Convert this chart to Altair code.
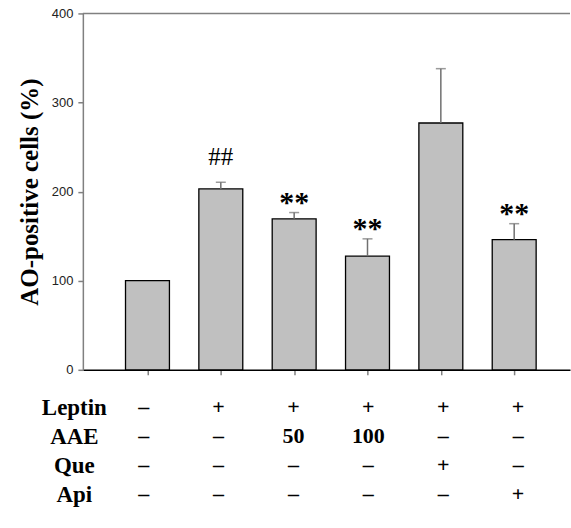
import altair as alt
import pandas as pd

groups = [1, 2, 3, 4, 5, 6]
means = [100, 203, 169.5, 127.5, 277, 146]
errors = [0, 7.5, 7, 19.5, 61, 18]
hash_marks = ["", "##", "", "", "", ""]
star_marks = ["", "", "**", "**", "", "**"]
y_ticks = [0, 100, 200, 300, 400]

row_names = ["Leptin", "AAE", "Que", "Api"]
leptin = ["–", "+", "+", "+", "+", "+"]
aae = ["–", "–", "50", "100", "–", "–"]
que = ["–", "–", "–", "–", "+", "–"]
api = ["–", "–", "–", "–", "–", "+"]

df = pd.DataFrame({"g": groups, "mean": means, "err": errors,
                   "hash": hash_marks, "star": star_marks})
df["top"] = df["mean"] + df["err"]

rows = []
for name, vals in zip(row_names, [leptin, aae, que, api]):
    for g, v in zip(groups, vals):
        rows.append({"row": name, "g": g, "val": v})
tdf = pd.DataFrame(rows)

xscale = alt.Scale(domain=[0.187, 6.693], nice=False, zero=False)
yscale = alt.Scale(domain=[0, 400], nice=False)
GRAY = "#808080"

base = alt.Chart(df)
bars = base.mark_bar(size=44, color="#c0c0c0", stroke="black", strokeWidth=1.3).encode(
    x=alt.X("g:Q", scale=xscale,
            axis=alt.Axis(values=groups, labels=False, title=None, grid=False,
                          tickColor=GRAY, tickSize=5, tickWidth=1.5,
                          domainColor="black", domainWidth=1.5)),
    y=alt.Y("mean:Q", scale=yscale,
            axis=alt.Axis(values=y_ticks, title="AO-positive cells (%)", grid=False,
                          domainColor=GRAY, domainWidth=1.5,
                          tickColor=GRAY, tickWidth=1.5, tickSize=5,
                          labelFont="Liberation Sans", labelFontSize=13,
                          labelColor="#222222", labelPadding=5,
                          titleFont="Liberation Serif", titleFontWeight="bold",
                          titleFontSize=25, titleColor="black", titlePadding=9)),
)
eb = base.transform_filter("datum.err > 0")
err_rule = eb.mark_rule(color="#707070", strokeWidth=1.5).encode(
    x="g:Q", y="mean:Q", y2="top:Q")
caps = eb.mark_tick(orient="horizontal", size=10, thickness=1.5, color="#707070").encode(
    x="g:Q", y="top:Q")
top_border = alt.Chart(pd.DataFrame({"y": [400]})).mark_rule(
    color=GRAY, strokeWidth=1.5).encode(y=alt.Y("y:Q", scale=yscale))
hash_text = base.mark_text(font="Liberation Serif", fontSize=25, dy=-25,
                           baseline="middle", color="black").encode(
    x="g:Q", y="top:Q", text="hash:N")
star_text = base.mark_text(font="Liberation Serif", fontWeight="bold", fontSize=30,
                           dy=-10, baseline="middle", color="black").encode(
    x="g:Q", y="top:Q", text="star:N")

bar_chart = alt.layer(bars, err_rule, caps, top_border, hash_text, star_text).properties(
    width=488, height=357)

table = alt.Chart(tdf).mark_text(font="Liberation Serif", fontWeight="bold",
                                 fontSize=22, color="black", baseline="middle").encode(
    x=alt.X("g:Q", scale=xscale, axis=None),
    y=alt.Y("row:N", sort=row_names,
            scale=alt.Scale(paddingInner=0, paddingOuter=0),
            axis=alt.Axis(domain=False, ticks=False, labelFont="Liberation Serif",
                          labelFontSize=23, labelFontWeight="bold", labelColor="black",
                          labelAlign="center", labelBaseline="middle",
                          labelPadding=9, title=None)),
    text="val:N",
).properties(width=488, height=116)

chart = alt.vconcat(bar_chart, table, spacing=16).properties(
    padding={"left": 17, "top": 7, "right": 0, "bottom": 5}
).configure_view(stroke=None)

chart.save("out.html", embed_options={"renderer": "svg", "actions": False})
